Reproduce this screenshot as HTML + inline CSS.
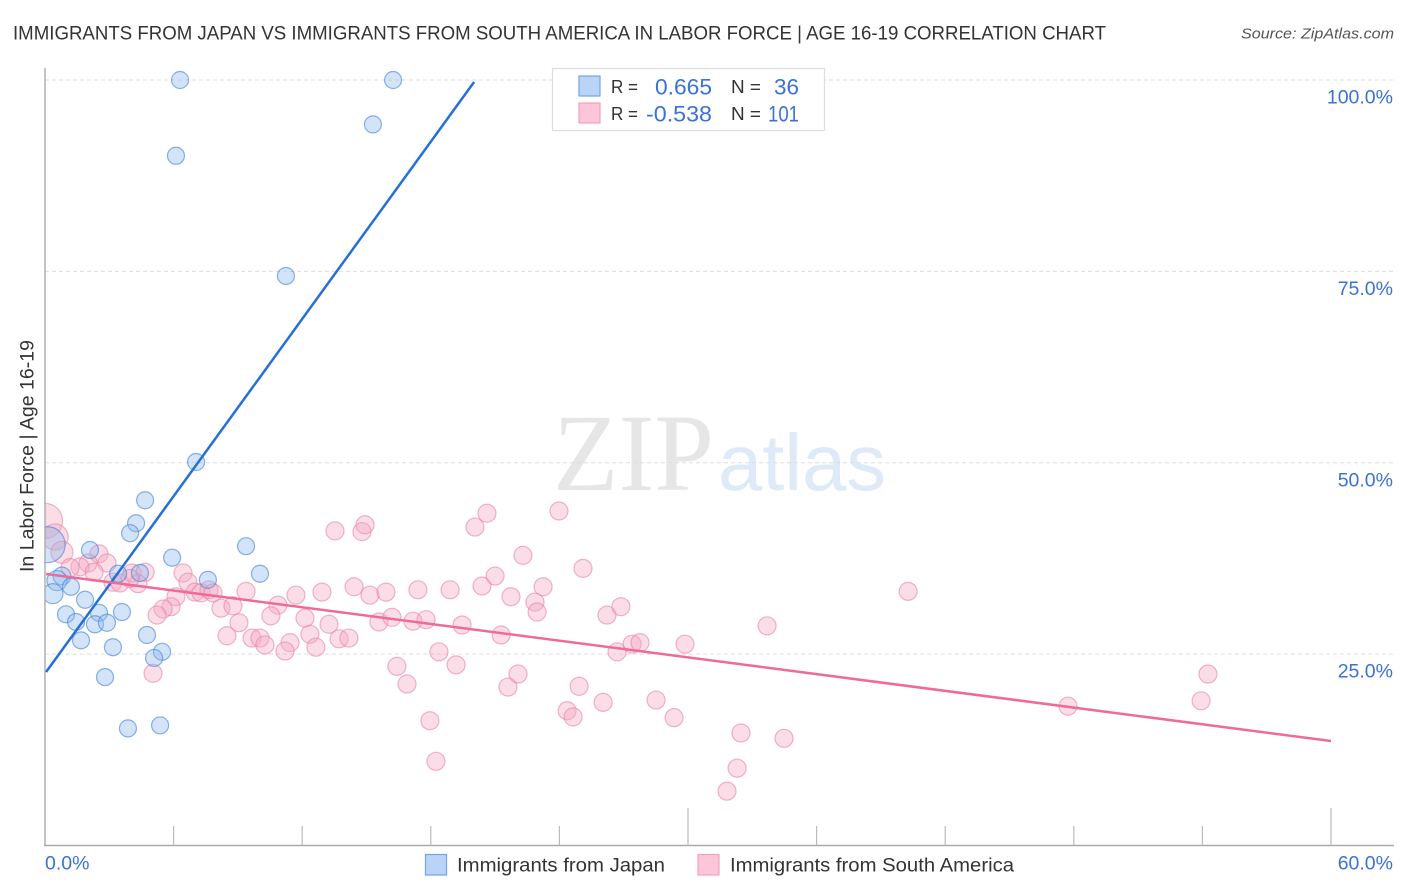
<!DOCTYPE html>
<html lang="en">
<head>
<meta charset="utf-8">
<title>Immigrants from Japan vs Immigrants from South America in Labor Force | Age 16-19</title>
<style>
html,body{margin:0;padding:0;background:#fff;}
svg{display:block;font-family:"Liberation Sans",sans-serif;}
</style>
</head>
<body>
<svg id="chart" xmlns="http://www.w3.org/2000/svg" width="1406" height="892" viewBox="0 0 1406 892">
  <rect x="0" y="0" width="1406" height="892" fill="#ffffff"/>

  <g>
    <text x="553" y="490" font-family="'Liberation Serif',serif" font-size="110" fill="#e6e6e6" textLength="161" lengthAdjust="spacingAndGlyphs">ZIP</text>
    <text x="718" y="490" font-size="80" fill="#dfeaf9" textLength="168" lengthAdjust="spacingAndGlyphs">atlas</text>
  </g>

  <g id="grid"></g>
  <g id="points"></g>
  <rect x="0" y="60" width="45" height="800" fill="#ffffff"/>
  <g id="axes"></g>
  <g id="trends"></g>

  <text x="13" y="39.5" font-size="19.5" fill="#333333" textLength="1093" lengthAdjust="spacingAndGlyphs">IMMIGRANTS FROM JAPAN VS IMMIGRANTS FROM SOUTH AMERICA IN LABOR FORCE | AGE 16-19 CORRELATION CHART</text>
  <text x="1241" y="38.5" font-size="15" font-style="italic" fill="#555555" textLength="153" lengthAdjust="spacingAndGlyphs">Source: ZipAtlas.com</text>
  <text transform="translate(33.5,572) rotate(-90)" font-size="19" fill="#333333" textLength="232" lengthAdjust="spacingAndGlyphs">In Labor Force | Age 16-19</text>

  <g>
    <rect x="552.5" y="68.5" width="272" height="62" fill="#ffffff" stroke="#dddddd" stroke-width="1.2"/>
    <rect x="579" y="76" width="21" height="20" fill="#b9d4f7" stroke="#72a5e2" stroke-width="1.2"/>
    <rect x="579" y="103" width="21" height="20" fill="#fcc5d8" stroke="#f0a3bd" stroke-width="1.2"/>
    <text x="611" y="93" font-size="18" fill="#333333" textLength="27" lengthAdjust="spacingAndGlyphs">R =</text>
    <text x="655" y="94.5" font-size="22" fill="#3a72d6" textLength="57" lengthAdjust="spacingAndGlyphs">0.665</text>
    <text x="731" y="93" font-size="18" fill="#333333" textLength="30" lengthAdjust="spacingAndGlyphs">N =</text>
    <text x="774" y="94.5" font-size="22" fill="#3a72d6" textLength="25" lengthAdjust="spacingAndGlyphs">36</text>
    <text x="611" y="120" font-size="18" fill="#333333" textLength="27" lengthAdjust="spacingAndGlyphs">R =</text>
    <text x="646" y="121.5" font-size="22" fill="#3a72d6" textLength="66" lengthAdjust="spacingAndGlyphs">-0.538</text>
    <text x="731" y="120" font-size="18" fill="#333333" textLength="30" lengthAdjust="spacingAndGlyphs">N =</text>
    <text x="768" y="121.5" font-size="22" fill="#3a72d6" textLength="31" lengthAdjust="spacingAndGlyphs">101</text>
  </g>

  <g>
    <rect x="425.5" y="854.5" width="21" height="20.5" fill="#b9d4f7" stroke="#72a5e2" stroke-width="1.2"/>
    <text x="457" y="871.5" font-size="19.5" fill="#333333" textLength="208" lengthAdjust="spacingAndGlyphs">Immigrants from Japan</text>
    <rect x="698" y="854.5" width="21" height="20.5" fill="#fcc5d8" stroke="#f0a3bd" stroke-width="1.2"/>
    <text x="730" y="871.5" font-size="19.5" fill="#333333" textLength="284" lengthAdjust="spacingAndGlyphs">Immigrants from South America</text>
  </g>
</svg>
<script>
/* Chart data (percent values) */
var yTickValues = [25, 50, 75, 100];
var yTickLabels = ["25.0%", "50.0%", "75.0%", "100.0%"];
var xTickValues = [0, 6, 12, 18, 24, 30, 36, 42, 48, 54, 60];
var xMajorTicks = [0, 30, 60];
var xEndLabels = ["0.0%", "60.0%"];
var xEndValues = [0, 60];

var japanX = [0.1, 6.30, 16.24, 15.30, 6.11, 11.24, 7.05, 4.67, 4.25, 3.97, 9.38, 2.10, 5.93, 3.41, 4.43, 10.03, 7.60, 0.79, 0.56, 1.21, 0.37, 1.87, 0.98, 2.52, 3.59, 1.45, 2.33, 2.89, 4.76, 1.68, 3.17, 5.46, 5.09, 2.80, 3.87, 5.37];
var japanY = [39.3, 100, 100, 94.2, 90.1, 74.4, 50.1, 45.1, 42.1, 40.8, 39.1, 38.6, 37.6, 35.5, 35.6, 35.5, 34.7, 35.2, 34.6, 33.8, 32.9, 32.1, 30.2, 30.4, 30.5, 29.2, 28.9, 29.1, 27.5, 26.8, 25.9, 25.3, 24.5, 22.0, 15.3, 15.7];
var japanWeight = [4.5, 1, 1, 1, 1, 1, 1, 1, 1, 1, 1, 1, 1, 1, 1, 1, 1, 1.1, 1.4, 1, 1.4, 1, 1, 1, 1, 1, 1, 1, 1, 1, 1, 1, 1, 1, 1, 1];

var americaX = [0.0, 0.47, 0.79, 2.52, 2.89, 2.01, 1.63, 1.17, 2.29, 3.17, 3.50, 4.06, 4.67, 4.34, 3.97, 6.44, 6.67, 6.11, 7.00, 7.28, 7.65, 7.84, 5.88, 5.51, 5.23, 8.21, 8.77, 9.38, 9.05, 8.49, 9.66, 10.03, 10.26, 10.87, 10.54, 11.71, 11.43, 11.20, 5.04, 12.13, 12.92, 12.36, 12.64, 13.25, 13.72, 14.18, 13.53, 14.79, 14.93, 14.42, 15.16, 15.91, 15.58, 16.19, 17.17, 17.78, 17.40, 18.90, 16.42, 16.89, 18.38, 19.18, 19.46, 20.06, 20.62, 20.39, 21.00, 21.28, 21.74, 22.30, 22.86, 22.96, 23.24, 23.98, 25.10, 26.22, 26.87, 26.69, 27.39, 27.76, 22.07, 21.60, 24.92, 24.36, 24.64, 26.04, 28.51, 29.35, 29.86, 33.69, 40.27, 17.96, 18.24, 32.47, 34.48, 32.29, 31.82, 47.73, 54.26, 53.94];
var americaY = [42.4, 40.3, 38.3, 38.1, 36.9, 36.9, 36.4, 36.3, 35.7, 34.4, 34.3, 35.6, 35.7, 34.2, 34.9, 35.6, 34.4, 32.5, 33.1, 33.0, 33.4, 33.0, 31.2, 30.9, 30.1, 31.0, 31.3, 33.2, 29.1, 27.4, 27.1, 27.1, 26.2, 31.4, 30.0, 32.7, 26.5, 25.4, 22.5, 29.7, 33.1, 27.6, 25.9, 28.9, 27.0, 27.1, 41.1, 41.0, 41.9, 33.8, 32.7, 33.1, 29.2, 29.8, 29.3, 29.5, 33.4, 33.4, 23.4, 21.1, 25.3, 23.6, 28.8, 41.6, 43.4, 33.9, 35.2, 27.5, 32.5, 37.9, 31.8, 30.5, 33.8, 43.7, 36.2, 30.1, 31.2, 25.3, 26.3, 26.5, 22.4, 20.7, 20.8, 17.6, 16.8, 18.7, 19.0, 16.7, 26.3, 28.7, 33.2, 16.3, 11.0, 14.7, 14.0, 10.1, 7.1, 18.2, 22.4, 18.9];
var americaWeight = [3.8, 2.1, 1.5];

var japanTrendX = [0.05, 20.02];
var japanTrendY = [22.66, 99.74];
var americaTrendX = [0.05, 60];
var americaTrendY = [35.47, 13.65];

/* Axis functions */
function xScale(v) { return 45 + v * (1331 - 45) / 60; }
function yScale(v) { return 845.5 - v * (845.5 - 80) / 100; }
function japanRadius(w) { return 8.5 * Math.sqrt(w === undefined ? 1 : w); }
function americaRadius(w) { return 9 * Math.sqrt(w === undefined ? 1 : w); }

var NS = "http://www.w3.org/2000/svg";
function make(tag, attrs, parent) {
  var el = document.createElementNS(NS, tag);
  for (var k in attrs) { el.setAttribute(k, attrs[k]); }
  parent.appendChild(el);
  return el;
}

var grid = document.getElementById("grid");
var axes = document.getElementById("axes");
var points = document.getElementById("points");
var trends = document.getElementById("trends");

yTickValues.forEach(function (v, i) {
  var line = make("line", {x1: 45, x2: 1393, y1: yScale(v), y2: yScale(v), stroke: "#dddddd", "stroke-width": 1, "stroke-dasharray": "4 3"}, grid);
  
  
  var label = make("text", {x: 1393, y: yScale(v) + 23.5, "text-anchor": "end", "font-size": 19.5, fill: "#3a72d6"}, axes);
  
  
  label.textContent = yTickLabels[i];
});

var yAxis = make("line", {x1: 45, x2: 45, y1: 68, y2: 846, stroke: "#aaaaaa", "stroke-width": 1.4}, axes);


var xAxis = make("line", {x1: 44, x2: 1394, y1: 845.5, y2: 845.5, stroke: "#aaaaaa", "stroke-width": 1.4}, axes);



xTickValues.forEach(function (v) {
  if (v === 0) { return; }
  var major = xMajorTicks.indexOf(v) >= 0;
  var tick = make("line", {x1: xScale(v), x2: xScale(v), y1: major ? 808 : 826, y2: 845.5, stroke: "#bbbbbb", "stroke-width": 1.2}, axes);
  
  
});

xEndValues.forEach(function (v, i) {
  var label = make("text", {x: i === 0 ? xScale(v) : 1393, y: 869.5, "text-anchor": i === 0 ? "start" : "end", "font-size": 19.5, fill: "#3a72d6"}, axes);
  
  
  label.textContent = xEndLabels[i];
});

americaX.forEach(function (v, i) {
  var c = make("circle", {cx: xScale(v), cy: yScale(americaY[i]), r: americaRadius(americaWeight[i]), fill: "rgba(246,170,195,0.4)", stroke: "rgba(232,130,165,0.6)", "stroke-width": 1.2}, points);
  
  
});

japanX.forEach(function (v, i) {
  var c = make("circle", {cx: xScale(v), cy: yScale(japanY[i]), r: japanRadius(japanWeight[i]), fill: "rgba(140,185,240,0.38)", stroke: "rgba(70,130,215,0.62)", "stroke-width": 1.2}, points);
  
  
});

var japanLine = make("line", {x1: xScale(japanTrendX[0]), y1: yScale(japanTrendY[0]), x2: xScale(japanTrendX[1]), y2: yScale(japanTrendY[1]), stroke: "#2470d8", "stroke-width": 2.5}, trends);


var americaLine = make("line", {x1: xScale(americaTrendX[0]), y1: yScale(americaTrendY[0]), x2: xScale(americaTrendX[1]), y2: yScale(americaTrendY[1]), stroke: "#ee6a9b", "stroke-width": 2.5}, trends);


</script>
</body>
</html>
